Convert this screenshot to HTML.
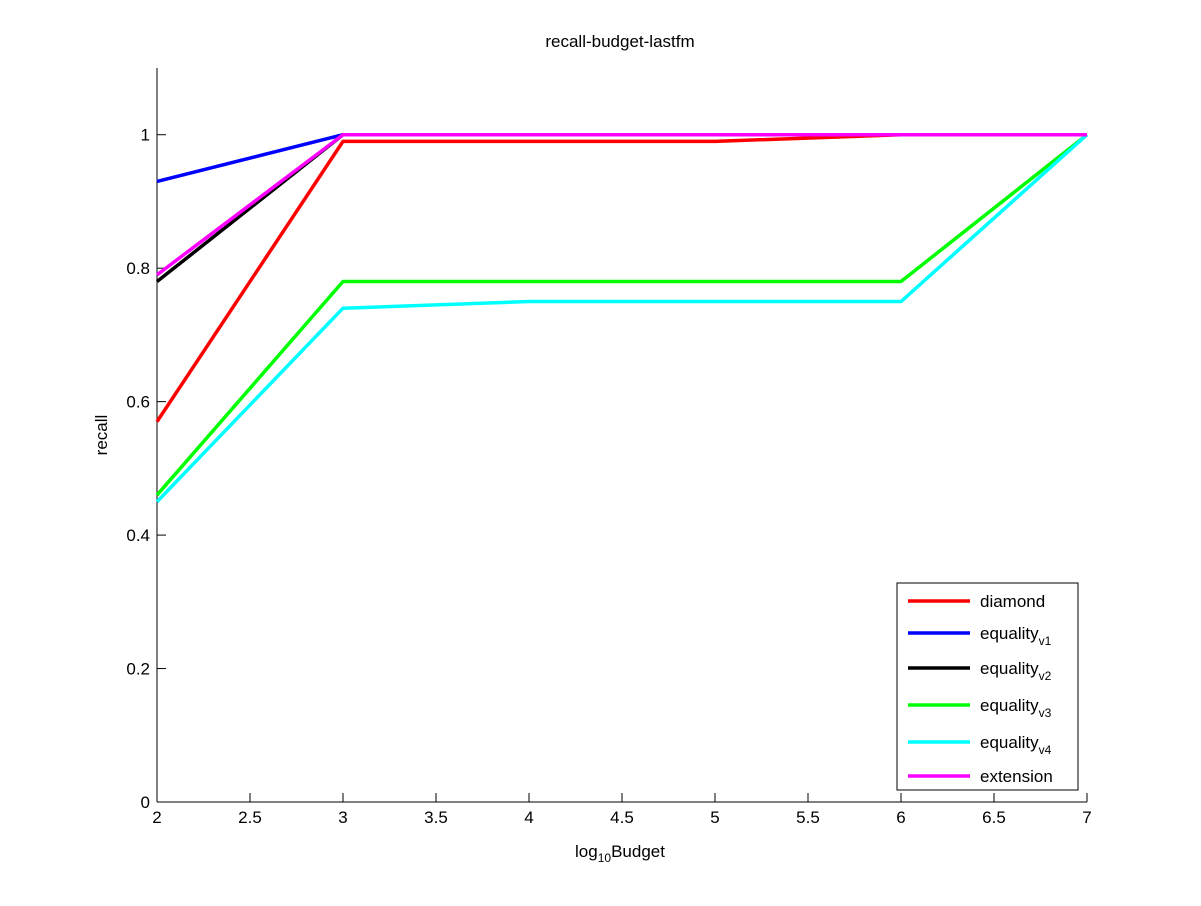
<!DOCTYPE html>
<html><head><meta charset="utf-8"><style>
body{margin:0;background:#fff;}
svg{font-family:"Liberation Sans",Arial,sans-serif;}
</style></head><body>
<svg id="chart" width="1201" height="901" viewBox="0 0 1201 901">
<rect x="0" y="0" width="1201" height="901" fill="#fff"/>
<text x="620" y="47" font-size="17" text-anchor="middle">recall-budget-lastfm</text>
<g id="axes"></g>
<g id="series"></g>
<g id="legend"></g>
</svg>
<script>
const xValues = [2, 3, 4, 5, 6, 7];
const diamond = [0.57, 0.99, 0.99, 0.99, 1, 1];
const equalityV1 = [0.93, 1, 1, 1, 1, 1];
const equalityV2 = [0.78, 1, 1, 1, 1, 1];
const equalityV3 = [0.46, 0.78, 0.78, 0.78, 0.78, 1];
const equalityV4 = [0.45, 0.74, 0.75, 0.75, 0.75, 1];
const extension = [0.79, 1, 1, 1, 1, 1];
const xTicks = ["2","2.5","3","3.5","4","4.5","5","5.5","6","6.5","7"];
const yTicks = ["0","0.2","0.4","0.6","0.8","1"];

const NS = "http://www.w3.org/2000/svg";
const L = 157, R = 1087, B = 802, T = 68;
const xMin = 2, xMax = 7, yMin = 0, yMax = 1.1;
const sx = v => L + (v - xMin) / (xMax - xMin) * (R - L);
const sy = v => B - (v - yMin) / (yMax - yMin) * (B - T);
function mk(tag, attrs, parent, text) {
  const e = document.createElementNS(NS, tag);
  for (const k in attrs) e.setAttribute(k, attrs[k]);
  if (text !== undefined) e.textContent = text;
  parent.appendChild(e);
  return e;
}
const axes = document.getElementById('axes');
let e = mk('line', {x1: L, y1: B, x2: R, y2: B, stroke: '#000'}, axes);


e = mk('line', {x1: L, y1: B, x2: L, y2: T, stroke: '#000'}, axes);


xTicks.forEach(t => {
  const x = sx(parseFloat(t));
  mk('line', {x1: x, y1: B, x2: x, y2: B - 9, stroke: '#000'}, axes);
  const tx = mk('text', {x: x, y: B + 21, 'font-size': 17, 'text-anchor': 'middle'}, axes, t);
  
  
});
yTicks.forEach(t => {
  const y = sy(parseFloat(t));
  mk('line', {x1: L, y1: y, x2: L + 9, y2: y, stroke: '#000'}, axes);
  const tx = mk('text', {x: L - 7, y: y + 6, 'font-size': 17, 'text-anchor': 'end'}, axes, t);
  
  
});
const xl = mk('text', {x: 620, y: 857, 'font-size': 17, 'text-anchor': 'middle'}, axes);
xl.innerHTML = 'log<tspan font-size="12" dy="5">10</tspan><tspan dy="-5">Budget</tspan>';


const yl = mk('text', {x: 107, y: 435, 'font-size': 17, 'text-anchor': 'middle', transform: 'rotate(-90 107 435)'}, axes, 'recall');



const seriesList = [
  {name: 'diamond', sub: '', data: diamond, color: '#ff0000'},
  {name: 'equality', sub: 'v1', data: equalityV1, color: '#0000ff'},
  {name: 'equality', sub: 'v2', data: equalityV2, color: '#000000'},
  {name: 'equality', sub: 'v3', data: equalityV3, color: '#00ff00'},
  {name: 'equality', sub: 'v4', data: equalityV4, color: '#00ffff'},
  {name: 'extension', sub: '', data: extension, color: '#ff00ff'}
];
const sg = document.getElementById('series');
seriesList.forEach(s => {
  const pts = s.data.map((v, i) => sx(xValues[i]) + ',' + sy(v)).join(' ');
  const pl = mk('polyline', {points: pts, fill: 'none', stroke: s.color, 'stroke-width': 3.5, 'stroke-linejoin': 'round'}, sg);
  
  
});
const lg = document.getElementById('legend');
const box = mk('rect', {x: 897, y: 583, width: 181, height: 207, fill: '#fff', stroke: '#000'}, lg);


const rowY = [601, 633, 668, 705, 742, 776];
seriesList.forEach((s, i) => {
  const y = rowY[i];
  mk('line', {x1: 908, y1: y, x2: 970, y2: y, stroke: s.color, 'stroke-width': 3.5}, lg);
  const t = mk('text', {x: 980, y: y + 6, 'font-size': 17}, lg);
  t.innerHTML = s.name + (s.sub ? '<tspan font-size="12" dy="6">' + s.sub + '</tspan>' : '');
  
  
});
</script>
</body></html>
